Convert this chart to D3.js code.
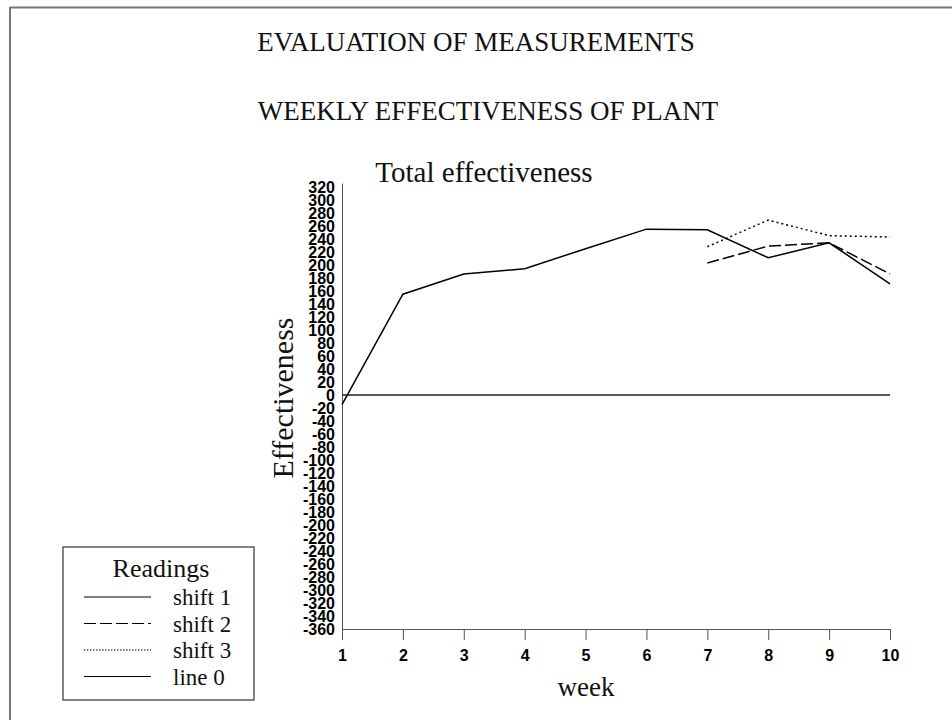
<!DOCTYPE html>
<html lang="en">
<head>
    <meta charset="utf-8">
    <title>Evaluation of measurements</title>
    <script type="text/javascript" src="https://d3js.org/d3.v7.min.js"></script>
    <style>
     body { margin: 0; background: white; }
     .serif { font-family: "Liberation Serif", serif; fill: #111; }
     .axisy text, .axisx text {
        font-family: "Liberation Sans", Arial, sans-serif;
        font-weight: bold;
        fill: #000;
     }
     .axisy text { font-size: 16px; }
     .axisx text { font-size: 16px; }
     .axisy line { display: none; }
     .axisy path, .axisx path, .axisx line { stroke: #555; }
    </style>
</head>
<body>
    <div id="chart"></div>
    <script type="text/javascript">
        // data
        const weeks = [1, 2, 3, 4, 5, 6, 7, 8, 9, 10];
        const shift1 = [-15, 155, 186, 194, 225, 255, 254, 211, 234, 171];
        const lateWeeks = [7, 8, 9, 10];
        const shift2 = [203, 229, 234, 186];
        const shift3 = [228, 269, 245, 243];
        const line0 = [0, 0, 0, 0, 0, 0, 0, 0, 0, 0];
        const yTicks = d3.range(-360, 321, 20);
        const seriesNames = ["shift 1", "shift 2", "shift 3", "line 0"];

        const width = 952;
        const height = 720;
        const marginLeft = 342;
        const marginRight = 62;
        const plotTop = 183;
        const plotBottom = 629;

        const dashes = {
            "shift 1": null,
            "shift 2": "12,4",
            "shift 3": "2,3",
            "line 0": null
        };

        const svg = d3.select("#chart")
            .append("svg")
            .attr("width", width)
            .attr("height", height);

        // page frame (top + left only)
        svg.append("line").attr("x1", 10).attr("x2", width).attr("y1", 7.5).attr("y2", 7.5)
            .attr("stroke", "#777").attr("stroke-width", 2);
        svg.append("line").attr("x1", 10).attr("x2", 10).attr("y1", 7).attr("y2", height)
            .attr("stroke", "#777").attr("stroke-width", 2);

        // titles
        svg.append("text").attr("class", "serif")
            .attr("x", 476).attr("y", 51)
            .attr("text-anchor", "middle").attr("font-size", 27)
            .text("EVALUATION OF MEASUREMENTS");
        svg.append("text").attr("class", "serif")
            .attr("x", 488).attr("y", 120)
            .attr("text-anchor", "middle").attr("font-size", 27)
            .text("WEEKLY EFFECTIVENESS OF PLANT");
        svg.append("text").attr("class", "serif")
            .attr("x", 484).attr("y", 182)
            .attr("text-anchor", "middle").attr("font-size", 29)
            .text("Total effectiveness");

        const xScale = d3.scaleLinear()
            .domain([1, 10])
            .range([marginLeft, width - marginRight]);

        const yScale = d3.scaleLinear()
            .domain([-360, 326])
            .range([plotBottom, plotTop]);

        const xAxis = d3.axisBottom(xScale)
            .tickValues(weeks)
            .tickFormat(d => String(d))
            .tickSize(11)
            .tickSizeOuter(0)
            .tickPadding(10);

        // plain hyphen for negatives, as in the original
        const yAxis = d3.axisLeft(yScale)
            .tickValues(yTicks)
            .tickFormat(d => String(d))
            .tickSize(0)
            .tickPadding(7);

        svg.append("g")
            .attr("class", "axisy")
            .attr("transform", "translate(" + marginLeft + ",0)")
            .call(yAxis);

        svg.append("g")
            .attr("class", "axisx")
            .attr("transform", "translate(0," + plotBottom + ")")
            .call(xAxis);

        // axis titles
        svg.append("text").attr("class", "serif")
            .attr("transform", "translate(293,398) rotate(-90)")
            .attr("text-anchor", "middle").attr("font-size", 30)
            .text("Effectiveness");
        svg.append("text").attr("class", "serif")
            .attr("x", 586).attr("y", 696)
            .attr("text-anchor", "middle").attr("font-size", 27)
            .text("week");

        // lines
        const line = d3.line()
            .x(d => xScale(d[0]))
            .y(d => yScale(d[1]));

        const series = [
            { name: "line 0", pts: weeks.map((w, i) => [w, line0[i]]), color: "#222" },
            { name: "shift 1", pts: weeks.map((w, i) => [w, shift1[i]]), color: "#000" },
            { name: "shift 2", pts: lateWeeks.map((w, i) => [w, shift2[i]]), color: "#000" },
            { name: "shift 3", pts: lateWeeks.map((w, i) => [w, shift3[i]]), color: "#000" }
        ];

        svg.append("g")
            .attr("class", "lines")
            .selectAll("path")
            .data(series)
            .enter()
            .append("path")
                .attr("d", d => line(d.pts))
                .attr("fill", "none")
                .attr("stroke", d => d.color)
                .attr("stroke-width", 1.5)
                .attr("stroke-dasharray", d => dashes[d.name]);

        // legend
        const legend = svg.append("g").attr("class", "legend");
        legend.append("rect")
            .attr("x", 63).attr("y", 547)
            .attr("width", 191).attr("height", 153)
            .attr("fill", "white").attr("stroke", "#333").attr("stroke-width", 1.2);
        legend.append("text").attr("class", "serif")
            .attr("x", 161).attr("y", 577)
            .attr("text-anchor", "middle").attr("font-size", 26)
            .text("Readings");

        const rows = legend.selectAll("g.row")
            .data(seriesNames)
            .enter()
            .append("g")
                .attr("class", "row")
                .attr("transform", (d, i) => "translate(0," + (597 + i * 26.5) + ")");
        rows.append("line")
            .attr("x1", 84).attr("x2", 151)
            .attr("stroke", "#000").attr("stroke-width", 1.2)
            .attr("stroke-dasharray", d => dashes[d] === "2,3" ? "1.5,1.5" : dashes[d]);
        rows.append("text").attr("class", "serif")
            .attr("x", 173).attr("y", 8)
            .attr("font-size", 23)
            .text(d => d);
    </script>
</body>
</html>
